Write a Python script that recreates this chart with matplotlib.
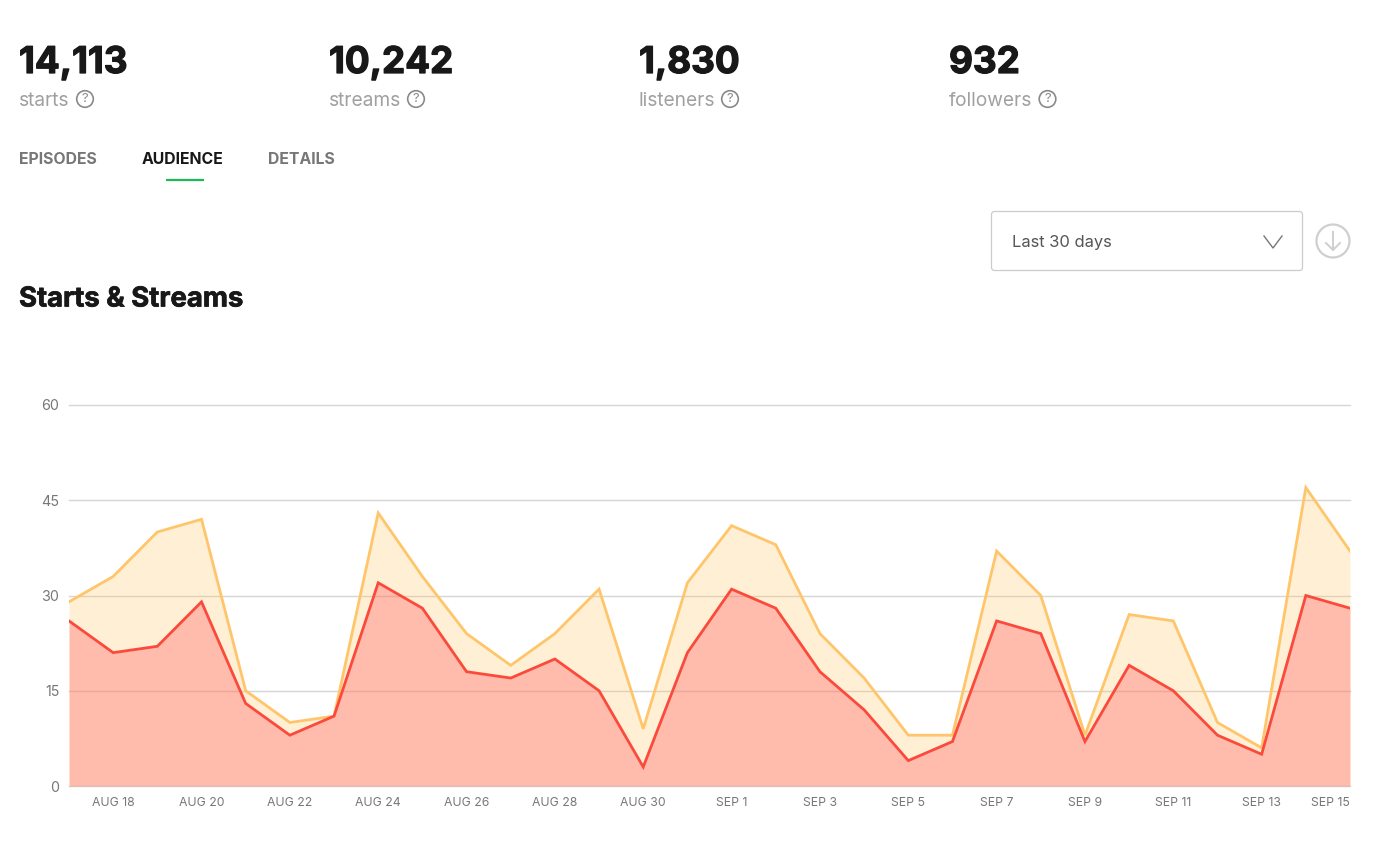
import matplotlib
matplotlib.use("Agg")
import matplotlib.pyplot as plt
import matplotlib.patheffects as pe
from matplotlib.patches import FancyBboxPatch, Circle

plt.rcParams['font.family'] = ['Inter', 'DejaVu Sans']

W, H = 1387, 843

days = ["AUG 17","AUG 18","AUG 19","AUG 20","AUG 21","AUG 22","AUG 23","AUG 24","AUG 25","AUG 26",
        "AUG 27","AUG 28","AUG 29","AUG 30","AUG 31","SEP 1","SEP 2","SEP 3","SEP 4","SEP 5",
        "SEP 6","SEP 7","SEP 8","SEP 9","SEP 10","SEP 11","SEP 12","SEP 13","SEP 14","SEP 15"]
starts = [29,33,40,42,15,10,11,43,33,24,19,24,31,9,32,41,38,24,17,8,8,37,30,8,27,26,10,6,47,37]
streams = [26,21,22,29,13,8,11,32,28,18,17,20,15,3,21,31,28,18,12,4,7,26,24,7,19,15,8,5,30,28]
y_ticks = [0,15,30,45,60]
stat_values = ["14,113","10,242","1,830","932"]
stat_names = ["starts","streams","listeners","followers"]
tabs = ["EPISODES","AUDIENCE","DETAILS"]

fig = plt.figure(figsize=(W/100, H/100), dpi=100, facecolor='white')

# page-level layer in pixel coordinates
ui = fig.add_axes([0,0,1,1])
ui.set_xlim(0,W); ui.set_ylim(H,0); ui.axis('off')

heavy = [pe.withStroke(linewidth=0.9, foreground='#181818')]
stat_x = [19,329,639,949]
help_x = [85,416,730,1047.5]
for sx,hx,v,n in zip(stat_x,help_x,stat_values,stat_names):
    ui.text(sx,73,v,fontsize=26.5,fontweight='bold',color='#181818',va='baseline',ha='left',path_effects=heavy)
    ui.text(sx,101,n,fontsize=13.8,color='#a0a0a0',va='center',ha='left')
    ui.add_patch(Circle((hx,99),8.3,fill=False,ec='#8a8a8a',lw=1.2))
    ui.text(hx,99.3,"?",fontsize=9.5,color='#8a8a8a',va='center',ha='center')

tab_x = [19,142,268]
tab_col = ['#777777','#181818','#777777']
for tx,t,c in zip(tab_x,tabs,tab_col):
    ui.text(tx,159.5,t,fontsize=11.4,fontweight='bold',color=c,va='center',ha='left')
ui.plot([166,204],[180,180],color='#1DB954',lw=1.6,solid_capstyle='butt')

ui.add_patch(FancyBboxPatch((991.5,211.5),311,59,boxstyle="round,pad=0,rounding_size=3",
                            fc='white',ec='#cccccc',lw=0.9))
ui.text(1012,243,"Last 30 days",fontsize=11.9,color='#555555',va='center',ha='left')
ui.plot([1264,1273,1282],[236,248,236],color='#777777',lw=1.0)
ui.add_patch(Circle((1333,241),16.5,fill=False,ec='#cfcfcf',lw=1.6))
ui.plot([1333,1333],[232,250],color='#cfcfcf',lw=1.4)
ui.plot([1326,1333,1340],[243,250,243],color='#cfcfcf',lw=1.4)

ui.text(19,299.5,"Starts & Streams",fontsize=19.8,fontweight='bold',color='#181818',va='center',ha='left',
        path_effects=[pe.withStroke(linewidth=0.5, foreground='#181818')])

# chart
left, right, top, bottom = 69, 1350, 405, 786
ax = fig.add_axes([left/W, 1-bottom/H, (right-left)/W, (bottom-top)/H])
ax.patch.set_alpha(0)
x = list(range(len(days)))
ax.set_xlim(0,len(days)-1); ax.set_ylim(0,60)

for v in y_ticks:
    ax.axhline(v,color='#d6d6d6',lw=1.0,zorder=1,clip_on=False)
ax.fill_between(x,starts,0,color='#FFC864',alpha=0.27,lw=0,zorder=2)
ax.fill_between(x,streams,0,color='#FF5C60',alpha=0.35,lw=0,zorder=3)
ax.plot(x,starts,color='#FFC56B',lw=2,zorder=4,solid_joinstyle='miter')
ax.plot(x,streams,color='#FB4A3C',lw=2,zorder=5,solid_joinstyle='miter')

for s in ax.spines.values():
    s.set_visible(False)
ax.set_yticks(y_ticks)
ax.set_yticklabels([str(v) for v in y_ticks],fontsize=10.3,color='#777777')
ax.tick_params(axis='y',length=0,pad=7)
tick_idx = x[1::2]
ax.set_xticks(tick_idx)
ax.set_xticklabels([days[i] for i in tick_idx],fontsize=8.8,color='#777777')
ax.tick_params(axis='x',length=0,pad=8)
labels = ax.get_xticklabels()
labels[-1].set_ha('right')
labels[-1].set_x(x[-1])

fig.savefig("out.png",dpi=100,facecolor='white')
